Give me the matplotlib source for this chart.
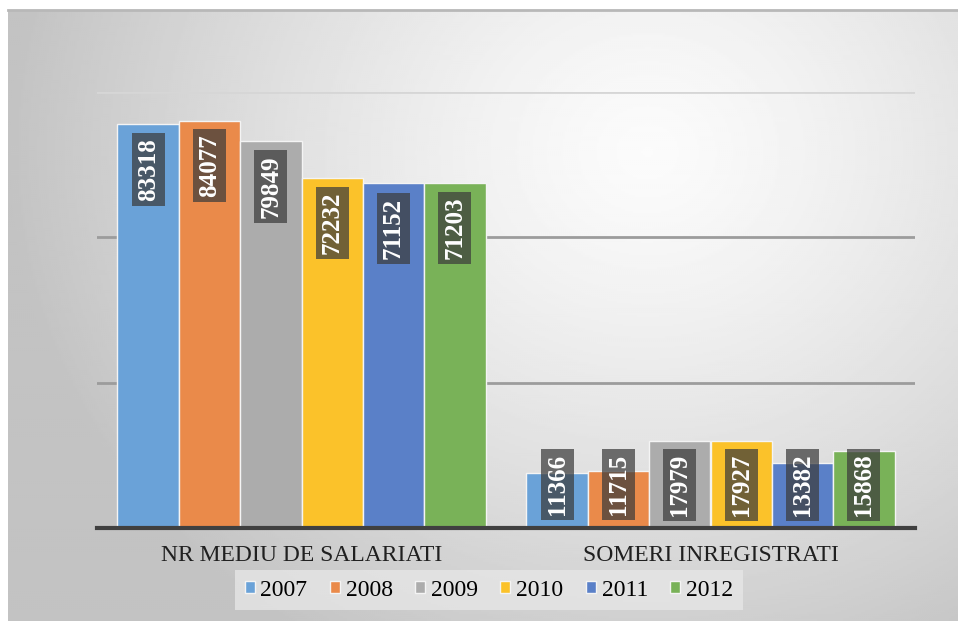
import matplotlib.pyplot as plt
import numpy as np

# date
categorii = ['NR MEDIU DE SALARIATI', 'SOMERI INREGISTRATI']
ani = ['2007', '2008', '2009', '2010', '2011', '2012']
salariati = [83318, 84077, 79849, 72232, 71152, 71203]
someri = [11366, 11715, 17979, 17927, 13382, 15868]
culori = ['#6aa2d8', '#ea8a4a', '#acacac', '#fbc22a', '#5a80c8', '#79b258']

plt.rcParams['font.family'] = ['Liberation Serif', 'DejaVu Serif']

W, H = 958, 621
fig = plt.figure(figsize=(W / 100, H / 100), dpi=100)
fig.patch.set_facecolor('white')

# fundal cu gradient (stil Excel)
bg = fig.add_axes([8 / W, 0, 950 / W, 611 / H])
bg.set_zorder(-2)
gx, gy = np.meshgrid(np.linspace(0, 950, 475), np.linspace(0, 611, 306))
d = np.sqrt((gx - 640) ** 2 + ((gy - 470) / 0.9) ** 2)
val = 0.985 - 0.22 * np.clip(d / 640, 0, 1) ** 1.3
bg.imshow(val, cmap='gray', vmin=0, vmax=1, aspect='auto', origin='lower',
          extent=[0, 1, 0, 1], interpolation='bilinear')
bg.set_xticks([])
bg.set_yticks([])
for s in ['left', 'right', 'bottom']:
    bg.spines[s].set_visible(False)
bg.spines['top'].set_color('#b8b8b8')
bg.spines['top'].set_linewidth(2)

ax = fig.add_axes([97 / W, (H - 528) / H, 818 / W, 436 / H])
ax.patch.set_alpha(0)

x = np.arange(len(categorii))
n = len(ani)
lat = 0.9 / n
px = 30000 / 145  # unitati de date pe pixel

for i, an in enumerate(ani):
    vals = [salariati[i], someri[i]]
    pos = x - 0.45 + lat * (i + 0.5)
    ax.bar(pos, vals, width=lat, color=culori[i], edgecolor='#f4f4f4',
           linewidth=1, label=an, zorder=3)
    for p, v in zip(pos, vals):
        yc = max(v - 45 * px, 43 * px)
        ax.text(p, yc, str(v), rotation=90, ha='center', va='center',
                color='white', fontsize=18, fontweight='bold', zorder=5,
                bbox=dict(boxstyle='square,pad=0.2', facecolor='#3c3c3c',
                          alpha=0.72, edgecolor='none'))

ax.set_xlim(-0.5, 1.5)
ax.set_ylim(0, 90000)
ax.set_yticks([30000, 60000, 90000])
ax.yaxis.grid(True, color='#9c9c9c', linewidth=2, zorder=0)
ax.get_ygridlines()[-1].set_color('#d6d6d6')
ax.set_axisbelow(True)
ax.tick_params(axis='y', length=0, labelleft=False)
ax.set_xticks(x)
ax.set_xticklabels(categorii, fontsize=17, color='#202020')
ax.tick_params(axis='x', length=0, pad=12)
for s in ['top', 'left', 'right']:
    ax.spines[s].set_visible(False)
ax.spines['bottom'].set_color('#404040')
ax.spines['bottom'].set_linewidth(3)
ax.spines['bottom'].set_zorder(4)

leg = fig.legend(loc='center', bbox_to_anchor=(489 / W, (H - 590) / H), ncol=6,
                 frameon=True, fontsize=17, handlelength=0.42, handleheight=0.42,
                 handletextpad=0.25, columnspacing=0.95, borderpad=0.12)
leg.set_zorder(-1)
leg.get_frame().set_facecolor('#e6e6e6')
leg.get_frame().set_edgecolor('none')
leg.get_frame().set_alpha(0.8)
leg.get_frame().set_boxstyle('square')

fig.savefig('out.png', dpi=100)
